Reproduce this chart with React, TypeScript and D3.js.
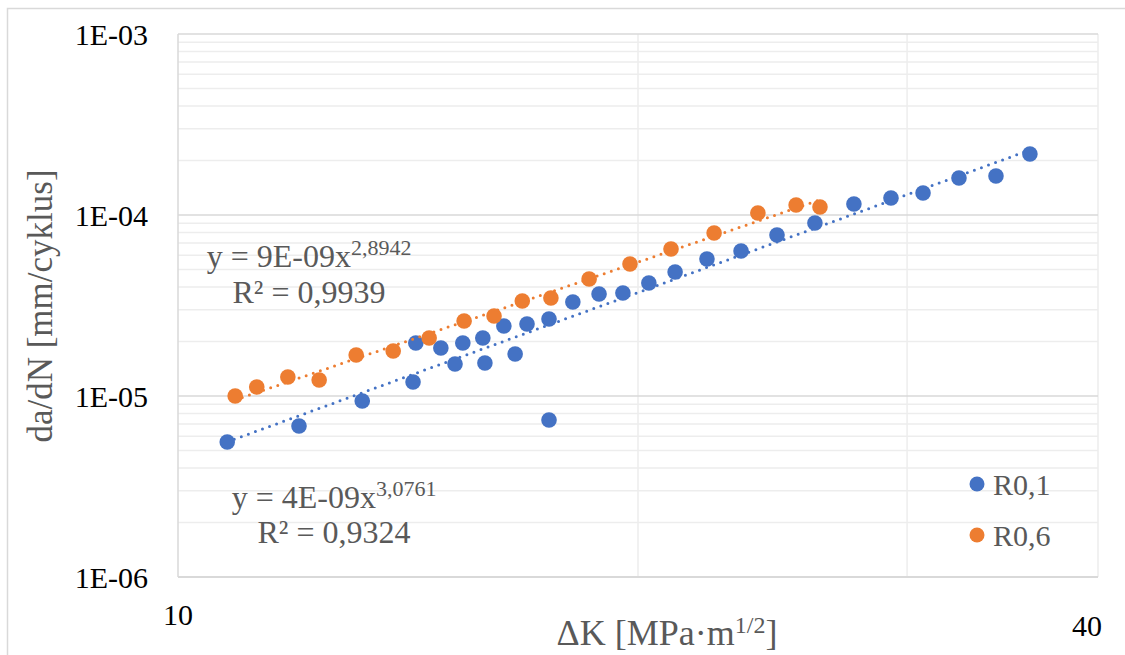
import React from "react";
import * as d3 from "d3";

const blueX = [10.77, 12.0, 13.2, 14.25, 14.31, 14.86, 15.18, 15.36, 15.83, 15.88, 16.34, 16.62, 16.92, 17.49, 17.49, 18.13, 18.86, 19.55, 20.33, 21.15, 22.19, 23.36, 24.66, 26.11, 27.69, 29.28, 30.73, 32.44, 34.3, 36.1];
const blueY = [5.57e-6, 6.83e-6, 9.38e-6, 1.195e-5, 1.963e-5, 1.841e-5, 1.502e-5, 1.963e-5, 2.091e-5, 1.521e-5, 2.436e-5, 1.706e-5, 2.499e-5, 2.663e-5, 7.37e-6, 3.306e-5, 3.66e-5, 3.707e-5, 4.21e-5, 4.844e-5, 5.713e-5, 6.325e-5, 7.755e-5, 9.03e-5, 1.15e-4, 1.241e-4, 1.323e-4, 1.601e-4, 1.642e-4, 2.173e-4];
const orangeX = [10.9, 11.26, 11.8, 12.37, 13.08, 13.83, 14.6, 15.39, 16.1, 16.8, 17.54, 18.58, 19.76, 21.02, 22.43, 23.96, 25.38, 26.31];
const orangeY = [1.0e-5, 1.121e-5, 1.274e-5, 1.226e-5, 1.684e-5, 1.772e-5, 2.091e-5, 2.597e-5, 2.767e-5, 3.349e-5, 3.479e-5, 4.43e-5, 5.362e-5, 6.49e-5, 7.955e-5, 1.026e-4, 1.136e-4, 1.107e-4];

const seriesNames = ["R0,1", "R0,6"];
const seriesColors = ["#4472C4", "#ED7D31"];
const yTickValues = [1e-6, 1e-5, 1e-4, 1e-3];
const yTickLabels = ["1E-06", "1E-05", "1E-04", "1E-03"];
const xTickValues = [10, 40];
const xTickLabels = ["10", "40"];
const eqMain = ["y = 4E-09x", "y = 9E-09x"];
const eqExp = ["3,0761", "2,8942"];
const eqR2 = ["R² = 0,9324", "R² = 0,9939"];

const L = 178, R = 1098, T = 34, B = 577;
const FONT = "'Liberation Serif', 'Times New Roman', serif";
const GRAY = "#595959";

function powerFit(xs: number[], ys: number[]) {
  const lx = xs.map(Math.log), ly = ys.map(Math.log);
  const mx = d3.mean(lx)!, my = d3.mean(ly)!;
  let sxy = 0, sxx = 0;
  lx.forEach((v, i) => { sxy += (v - mx) * (ly[i] - my); sxx += (v - mx) ** 2; });
  const b = sxy / sxx;
  const a = Math.exp(my - b * mx);
  return (x: number) => a * Math.pow(x, b);
}

export default function App() {
  const x = d3.scaleLog().domain([10, 40]).range([L, R]);
  const y = d3.scaleLog().domain([1e-6, 1e-3]).range([B, T]);

  const minorY: number[] = [];
  for (let e = -6; e < -3; e++) for (let k = 2; k <= 9; k++) minorY.push(k * Math.pow(10, e));
  const minorX = [20, 30, 40];

  const series = [
    { xs: blueX, ys: blueY },
    { xs: orangeX, ys: orangeY },
  ];

  const line = d3.line<[number, number]>().x(d => x(d[0])).y(d => y(d[1]));

  const eqPos = [
    { cx: 334, b1: 508, b2: 543 },
    { cx: 309, b1: 267, b2: 303 },
  ];

  return (
    <svg width={1125} height={655} style={{ position: "absolute", left: 0, top: 0, background: "#fff" }}>
      <rect x={7.5} y={8.5} width={1130} height={660} fill="#fff" stroke="#d9d9d9" strokeWidth={1.5} />
      {minorY.map((v, i) => (
        <line key={"my" + i} x1={L} x2={R} y1={y(v)} y2={y(v)} stroke="#ededed" strokeWidth={1.5} />
      ))}
      {minorX.map((v, i) => (
        <line key={"mx" + i} x1={x(v)} x2={x(v)} y1={T} y2={B} stroke="#ededed" strokeWidth={1.5} />
      ))}
      {yTickValues.map((v, i) => (
        <line key={"gy" + i} x1={L} x2={R} y1={y(v)} y2={y(v)} stroke="#d9d9d9" strokeWidth={1.5} />
      ))}
      <line x1={L} x2={L} y1={T} y2={B} stroke="#d9d9d9" strokeWidth={1.5} />
      <line x1={L} x2={R} y1={B} y2={B} stroke="#d9d9d9" strokeWidth={2} />

      {yTickValues.map((v, i) => (
        <text key={"yl" + i} x={148} y={y(v)} dy="0.35em" textAnchor="end" fontFamily={FONT} fontSize={30} fill="#000">
          {yTickLabels[i]}
        </text>
      ))}
      {xTickValues.map((v, i) => (
        <text key={"xl" + i} x={x(v) - (i === 1 ? 11 : 0)} y={i === 0 ? 625 : 636} textAnchor="middle" fontFamily={FONT} fontSize={30} fill="#000">
          {xTickLabels[i]}
        </text>
      ))}

      <text transform="translate(52,306) rotate(-90)" textAnchor="middle" fontFamily={FONT} fontSize={35} fill={GRAY}>
        da/dN [mm/cyklus]
      </text>
      <text x={667} y={645} textAnchor="middle" fontFamily={FONT} fontSize={36} fill={GRAY}>
        ΔK [MPa·m<tspan dy={-12} fontSize={24}>1/2</tspan><tspan dy={12}>]</tspan>
      </text>

      {series.map((s, si) => {
        const f = powerFit(s.xs, s.ys);
        const x0 = d3.min(s.xs)!, x1 = d3.max(s.xs)!;
        const pts: [number, number][] = d3.range(0, 41).map(i => {
          const xv = x0 * Math.pow(x1 / x0, i / 40);
          return [xv, f(xv)];
        });
        return (
          <g key={"s" + si}>
            <path d={line(pts)!} fill="none" stroke={seriesColors[si]} strokeWidth={3} strokeDasharray="0 7.5" strokeLinecap="round" />
            {s.xs.map((xv, i) => (
              <circle key={i} cx={x(xv)} cy={y(s.ys[i])} r={7.8} fill={seriesColors[si]} />
            ))}
          </g>
        );
      })}

      {eqPos.map((p, i) => (
        <g key={"eq" + i} fontFamily={FONT} fill={GRAY} fontSize={32} textAnchor="middle">
          <text x={p.cx} y={p.b1}>
            {eqMain[i]}<tspan dy={-12} fontSize={22}>{eqExp[i]}</tspan>
          </text>
          <text x={p.cx} y={p.b2}>{eqR2[i]}</text>
        </g>
      ))}

      {seriesNames.map((n, i) => (
        <g key={"lg" + i}>
          <circle cx={977} cy={484 + i * 51} r={7.5} fill={seriesColors[i]} />
          <text x={993} y={495 + i * 51} fontFamily={FONT} fontSize={30} fill={GRAY}>{n}</text>
        </g>
      ))}
    </svg>
  );
}
